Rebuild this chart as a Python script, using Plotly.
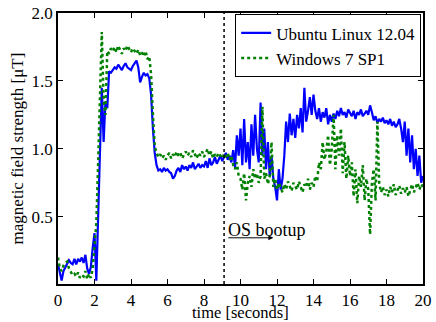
import plotly.graph_objects as go

t = [round(i * 0.1, 1) for i in range(201)]

ubuntu = [
    0.15, 0.08, 0.03, 0.10, 0.13, 0.15, 0.18, 0.16, 0.15, 0.19,
    0.15, 0.19, 0.17, 0.20, 0.16, 0.22, 0.12, 0.08, 0.13, 0.27,
    0.38, 0.03, 0.50, 1.00, 1.45, 1.05, 1.35, 1.30, 1.57, 1.56,
    1.58, 1.60, 1.59, 1.62, 1.60, 1.58, 1.61, 1.63, 1.60, 1.59,
    1.58, 1.61, 1.63, 1.65, 1.60, 1.49, 1.53, 1.56, 1.54, 1.55,
    1.52, 1.40, 1.15, 0.97, 0.88, 0.84, 0.85, 0.83, 0.86, 0.84,
    0.85, 0.83, 0.82, 0.78, 0.80, 0.84, 0.86, 0.83, 0.88, 0.85,
    0.87, 0.84, 0.88, 0.86, 0.90, 0.85, 0.87, 0.89, 0.86, 0.88,
    0.87, 0.91, 0.86, 0.93, 0.88, 0.90, 0.94, 0.89, 0.92, 0.95,
    0.91, 0.94, 0.97, 0.92, 0.95, 0.90, 0.99, 0.86, 1.10, 0.95,
    1.15, 0.88, 1.22, 0.90, 1.05, 0.85, 1.18, 0.95, 1.25, 1.00,
    0.90, 1.34, 0.95, 1.15, 0.85, 1.05, 0.80, 0.95, 0.78, 0.72,
    0.62, 0.85, 0.70, 0.78, 0.95, 1.20, 1.05, 1.26, 1.10, 1.22,
    1.08, 1.25, 1.15, 1.30, 1.12, 1.45, 1.20, 1.28, 1.38, 1.25,
    1.40, 1.28, 1.22, 1.30, 1.20, 1.27, 1.23, 1.30, 1.18, 1.25,
    1.20, 1.26, 1.22, 1.28, 1.24, 1.30, 1.25, 1.27, 1.23, 1.29,
    1.26, 1.24, 1.28, 1.22, 1.27, 1.25, 1.29, 1.24, 1.26, 1.28,
    1.25, 1.32, 1.27, 1.21, 1.24, 1.19, 1.22, 1.20, 1.23, 1.19,
    1.21, 1.18, 1.22, 1.17, 1.20, 1.16, 1.18, 1.22, 1.15, 1.05,
    1.20, 0.95, 1.15, 0.90, 1.10, 0.85, 1.00, 0.80, 0.95, 0.75,
    0.80,
]

windows = [
    0.20, 0.12, 0.10, 0.14, 0.16, 0.17, 0.12, 0.09, 0.07, 0.08,
    0.06, 0.09, 0.05, 0.07, 0.06, 0.10, 0.04, 0.08, 0.05, 0.12,
    0.30, 0.45, 0.90, 1.40, 1.86, 1.35, 1.25, 1.72, 1.70, 1.74,
    1.72, 1.75, 1.71, 1.76, 1.73, 1.70, 1.74, 1.72, 1.76, 1.73,
    1.71, 1.74, 1.72, 1.70, 1.73, 1.69, 1.71, 1.68, 1.72, 1.66,
    1.68, 1.55, 1.25, 1.02, 0.97, 0.94, 0.96, 0.93, 0.95, 0.92,
    0.95, 0.97, 0.93, 0.96, 0.94, 0.98, 0.95, 0.97, 0.93, 0.96,
    0.98, 0.95, 0.97, 0.94, 0.99, 0.96, 0.93, 0.97, 0.95, 0.98,
    0.94, 0.97, 1.00, 0.95, 0.98, 0.93, 0.96, 0.94, 0.97, 0.95,
    0.93, 0.96, 0.94, 0.97, 0.92, 0.95, 0.88, 0.85, 0.90, 0.80,
    0.78, 0.70, 0.82, 0.62, 0.75, 0.80, 0.72, 0.85, 0.78, 0.82,
    0.75, 0.80, 1.31, 0.78, 0.82, 0.74, 0.80, 1.05, 0.72, 0.78,
    0.70, 0.75, 0.72, 0.68, 0.74, 0.70, 0.76, 0.72, 0.69, 0.75,
    0.73, 0.70, 0.76, 0.71, 0.68, 0.74, 0.72, 0.78, 0.70, 0.75,
    0.72, 0.80, 0.76, 0.90, 0.85, 1.05, 0.92, 0.98, 1.10, 0.88,
    1.00, 1.25, 0.85, 1.10, 0.95, 1.15, 0.82, 1.05, 0.78, 0.95,
    0.80, 0.90, 0.65, 0.85, 0.60, 0.80, 0.72, 0.88, 0.62, 0.78,
    0.70, 0.37, 0.75, 0.85, 0.62, 1.20, 0.75, 0.68, 0.72, 0.66,
    0.70, 0.65, 0.72, 0.68, 0.74, 0.66, 0.70, 0.73, 0.67, 0.71,
    0.68, 0.72, 0.65, 0.70, 0.74, 0.68, 0.72, 0.75, 0.70, 0.74,
    0.72,
]

boot_time = 9.1
x_ticks = [0, 2, 4, 6, 8, 10, 12, 14, 16, 18, 20]
y_ticks = [0.5, 1.0, 1.5, 2.0]
y_tick_text = ["0.5", "1.0", "1.5", "2.0"]

FONT = "Liberation Serif"

fig = go.Figure()
fig.add_trace(go.Scatter(x=t, y=ubuntu, mode="lines", name="Ubuntu Linux 12.04",
                         line=dict(color="#0000ff", width=2.2)))
fig.add_trace(go.Scatter(x=t, y=windows, mode="lines", name="Windows 7 SP1",
                         line=dict(color="#008000", width=2.5, dash="dot")))
fig.add_trace(go.Scatter(x=[boot_time, boot_time], y=[0.005, 2.0], mode="lines",
                         showlegend=False, line=dict(color="black", width=1.5, dash="dot")))

fig.add_annotation(x=boot_time + 0.1, y=0.40, text="OS bootup", showarrow=False,
                   xanchor="left", yanchor="middle", font=dict(family=FONT, size=18, color="black"))
fig.add_annotation(x=11.8, y=0.345, ax=boot_time + 0.15, ay=0.345, axref="x", ayref="y",
                   text="", showarrow=True, arrowhead=2, arrowsize=1, arrowwidth=1, arrowcolor="black")

# x-axis title, placed at the bottom edge of the figure
fig.add_annotation(xref="paper", yref="paper", x=0.5, y=-38 / 271, xanchor="center", yanchor="bottom",
                   text="time [seconds]", showarrow=False, yshift=-2,
                   font=dict(family=FONT, size=16.5, color="black"))

axis_common = dict(showline=True, linecolor="black", linewidth=1.5, mirror="ticks",
                   ticks="inside", ticklen=5, tickcolor="black", showgrid=False, zeroline=False,
                   automargin=False, tickfont=dict(family=FONT, size=17, color="black"))

fig.update_xaxes(range=[0, 20], tickvals=x_ticks, **axis_common)
fig.update_yaxes(range=[0.005, 2.0], tickvals=y_ticks, ticktext=y_tick_text,
                 title=dict(text="magnetic field strength [μT]", font=dict(family=FONT, size=17, color="black"), standoff=4),
                 **axis_common)

fig.update_layout(
    width=436, height=322,
    margin=dict(l=58, r=13, t=13, b=38),
    paper_bgcolor="white", plot_bgcolor="white",
    font=dict(family=FONT, size=18, color="black"),
    legend=dict(x=0.995, y=0.995, xanchor="right", yanchor="top", bgcolor="white",
                bordercolor="black", borderwidth=1, font=dict(family=FONT, size=17),
                itemwidth=30, tracegroupgap=0),
)

fig.write_html("out.html", config={"displayModeBar": False},
               post_script="document.body.style.margin='0';document.body.style.overflow='hidden';")
